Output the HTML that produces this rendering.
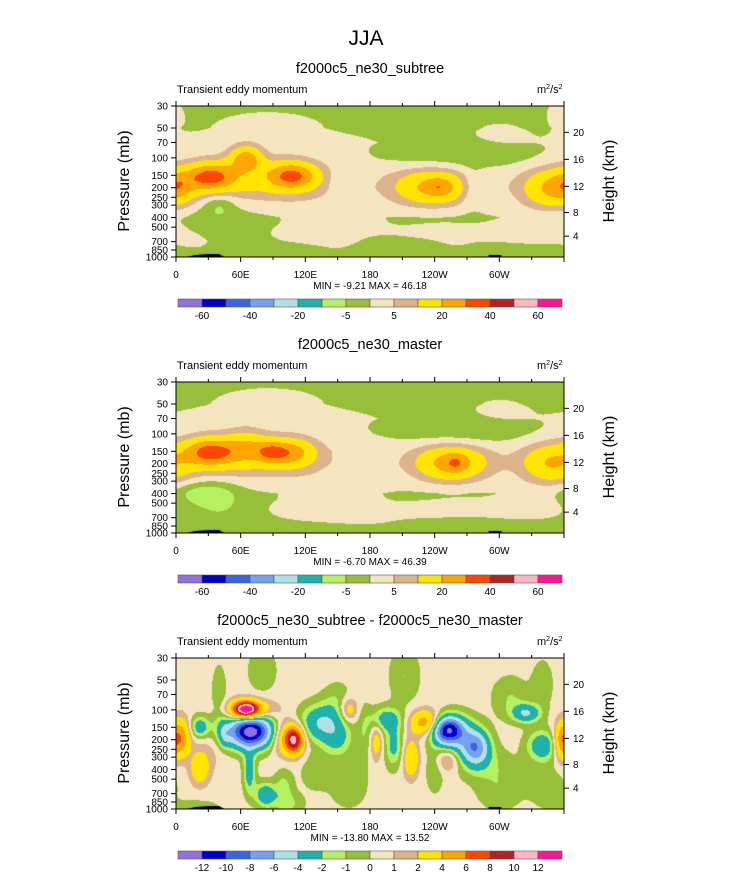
<!DOCTYPE html>
<html><head><meta charset="utf-8"><style>
body{margin:0;background:#fff;}
#wrap{position:relative;width:733px;height:873px;overflow:hidden;font-family:"Liberation Sans",sans-serif;}
canvas{position:absolute;}
svg{position:absolute;left:0;top:0;}
</style></head><body>
<div id="wrap">
<canvas id="c0" width="388" height="151" style="left:176px;top:106px"></canvas>
<canvas id="c1" width="388" height="151" style="left:176px;top:382px"></canvas>
<canvas id="c2" width="388" height="151" style="left:176px;top:658px"></canvas>
<svg id="s" width="733" height="873"></svg>
</div>
<script>
const colors=["#9370db","#0000c8","#3c64dc","#78a0f0","#b0e0e6","#20b2aa","#b4f060","#98bf3a","#f5e4c0","#dcb48c","#ffe400","#ffa500","#ff4500","#b22222","#ffb6c1","#ff1493"];
const levels1=[-60,-50,-40,-30,-20,-10,-5,0,5,10,20,30,40,50,60];
const levels3=[-12,-10,-8,-6,-4,-2,-1,0,1,2,4,6,8,10,12];
const cbLabels1=["-60","","-40","","-20","","-5","","5","","20","","40","","60"];
const cbLabels3=["-12","-10","-8","-6","-4","-2","-1","0","1","2","4","6","8","10","12"];
const titles=["f2000c5_ne30_subtree","f2000c5_ne30_master","f2000c5_ne30_subtree - f2000c5_ne30_master"];
const minmax=["MIN =  -9.21  MAX =  46.18","MIN =  -6.70  MAX =  46.39","MIN = -13.80  MAX =  13.52"];
const presTicks=[30,50,70,100,150,200,250,300,400,500,700,850,1000];
const heightTicks=[20,16,12,8,4];
const heightPres=[55.3,103.5,194,356,616];
const lonTicks=[0,60,120,180,240,300];
const lonLabels=["0","60E","120E","180","120W","60W"];
const basePres=[30,50,70,100,150,200,300,400,500,700,1000];
const base1=[-3,-1.5,1,1.5,3,3,1.5,-1,-1,-1.5,-3];
const base2=[-3,-1.5,1,1.5,3,3,1.5,-1,-1,-1.5,-3];
const base3=[0.5,0.5,0.5,0.5,0.5,0.5,0.5,0.5,0.5,0.5,0.5];
// blobs: [lon, pressure, lonWidth, lnpWidth, amplitude]
const blobs1=[[85,42,50,0.35,3],[300,55,20,0.2,3],[355,32,10,0.3,4],[265,92,55,0.28,-5],[145,400,30,0.3,3],[270,570,55,0.16,2.4],[120,600,25,0.15,2.5],[330,520,25,0.35,2],[40,330,25,0.4,-2],[65,165,45,0.35,9],[32,155,16,0.22,26],[65,102,10,0.2,22],[108,152,16,0.22,26],[2,195,10,0.25,10],[238,198,24,0.28,20],[245,198,8,0.15,8],[348,205,18,0.3,17],[275,200,8,0.3,-6],[40,300,10,0.2,-6],[150,170,8,0.2,-3],[20,800,20,0.3,2],[150,850,20,0.2,1.8],[260,850,15,0.2,1.6]];
const blobs2=[[85,42,50,0.35,3],[300,55,20,0.2,3],[265,92,55,0.28,-5],[145,400,30,0.3,3],[270,570,55,0.16,2.4],[120,600,25,0.15,2.5],[330,520,25,0.35,2],[60,165,45,0.35,9],[32,152,16,0.22,26],[65,135,12,0.25,12],[88,152,10,0.18,18],[108,155,14,0.22,18],[255,197,22,0.28,22],[260,195,7,0.15,8],[348,200,18,0.3,16],[40,450,15,0.3,-6],[20,400,15,0.2,-6],[180,850,50,0.2,2]];
const blobs3=[[80,40,9,0.35,-1.5],[212,45,10,0.45,-1.5],[310,75,12,0.35,-1.5],[340,55,7,0.4,-1.3],[40,70,5,0.5,-1.3],[150,80,10,0.3,-1.3],[65,100,8,0.13,12.5],[68,100,16,0.18,4],[70,165,13,0.25,-11],[62,165,22,0.32,-3],[110,200,6,0.22,9.5],[100,190,8,0.28,3.5],[135,135,14,0.3,-4.5],[150,200,10,0.3,-2.5],[195,125,10,0.2,-3.5],[202,230,6,0.35,-3],[186,210,4,0.3,2.5],[232,135,10,0.2,5],[252,160,10,0.22,-11],[262,185,14,0.35,-3],[278,240,9,0.28,-7],[325,108,9,0.15,-4.5],[340,230,10,0.25,-4],[357,210,5,0.3,4],[5,190,6,0.3,4.5],[22,150,6,0.18,-3.5],[22,400,6,0.25,3],[45,180,4,0.2,-2.5],[68,420,4,0.35,-3.5],[83,720,7,0.2,-4],[100,600,6,0.3,-1.8],[160,100,6,0.2,3],[218,310,5,0.3,3.5],[252,320,8,0.2,2.5],[105,900,10,0.2,-1.5],[300,650,15,0.35,-1.3],[345,600,12,0.35,-1.3],[160,600,12,0.35,-1.3],[30,230,12,0.35,1.2],[130,420,10,0.3,-1.3],[175,180,5,0.5,-1.3],[240,400,6,0.4,-1.3],[285,350,20,0.3,-1.3],[20,1000,15,0.15,-1.3]];
const panels=[{base:base1,blobs:blobs1,levels:levels1,cb:cbLabels1},{base:base2,blobs:blobs2,levels:levels1,cb:cbLabels1},{base:base3,blobs:blobs3,levels:levels3,cb:cbLabels3}];

const X0=176,W=388,H=151,tops=[106,382,658];
const L0=Math.log(30),L1=Math.log(1000);
const xOf=lon=>lon/360*W;
const yOf=p=>(Math.log(p)-L0)/(L1-L0)*H;
function baseAt(b,p){const lp=Math.log(p);for(let i=0;i<basePres.length-1;i++){const a=Math.log(basePres[i]),c=Math.log(basePres[i+1]);if(lp<=c){const t=(lp-a)/(c-a);return b[i]+(b[i+1]-b[i])*t;}}return b[b.length-1];}
function field(pn,lon,p){let v=baseAt(pn.base,p);const lp=Math.log(p);for(const bl of pn.blobs){let dl=Math.abs(lon-bl[0]);if(dl>180)dl=360-dl;const dx=dl/bl[2],dy=(lp-Math.log(bl[1]))/bl[3];v+=bl[4]*Math.exp(-0.5*(dx*dx+dy*dy));}return v;}
function colIdx(lv,v){let i=0;while(i<lv.length&&v>=lv[i])i++;return i;}
panels.forEach((pn,k)=>{const cv=document.getElementById('c'+k),ctx=cv.getContext('2d');
 for(let j=0;j<H;j++){const p=Math.exp(L0+(j+0.5)/H*(L1-L0));for(let i=0;i<W;i++){const lon=(i+0.5)/W*360;ctx.fillStyle=colors[colIdx(pn.levels,field(pn,lon,p))];ctx.fillRect(i,j,1,1);}}
 ctx.fillStyle="#000";ctx.beginPath();ctx.moveTo(xOf(10),H);ctx.lineTo(xOf(18),H-2);ctx.lineTo(xOf(30),H-3);ctx.lineTo(xOf(40),H-3);ctx.lineTo(xOf(45),H);ctx.closePath();ctx.fill();
 ctx.fillRect(xOf(290),H-2,xOf(12),2);});

const s=document.getElementById('s');const NS="http://www.w3.org/2000/svg";
function mk(tag,at,txt,name){const e=document.createElementNS(NS,tag);for(const a in at)e.setAttribute(a,at[a]);if(txt!==undefined)e.textContent=txt;


s.appendChild(e);return e;}
mk('text',{x:366,y:45,'font-size':21,'text-anchor':'middle'},"JJA","main-title");
panels.forEach((pn,k)=>{const T=tops[k];
 mk('text',{x:370,y:T-33,'font-size':14.5,'text-anchor':'middle'},titles[k],"panel-title");
 mk('text',{x:177,y:T-13,'font-size':11},"Transient eddy momentum","field-label");
 const u=mk('text',{x:537,y:T-13,'font-size':11},"m","units-label");
 u.innerHTML='m<tspan dy="-4" font-size="7">2</tspan><tspan dy="4">/s</tspan><tspan dy="-4" font-size="7">2</tspan>';
 mk('rect',{x:X0,y:T,width:W,height:H,fill:'none',stroke:'#000','stroke-width':1},undefined,"plot-frame");
 presTicks.forEach(p=>{const y=T+yOf(p);mk('line',{x1:X0-5,y1:y,x2:X0,y2:y,stroke:'#000'},undefined,"y-tick");mk('text',{x:X0-8,y:y+3.5,'font-size':10,'text-anchor':'end'},String(p),"y-tick-label");});
 heightTicks.forEach((h,i)=>{const y=T+yOf(heightPres[i]);mk('line',{x1:X0+W,y1:y,x2:X0+W+5,y2:y,stroke:'#000'},undefined,"right-tick");mk('text',{x:X0+W+9,y:y+3.5,'font-size':10},String(h),"right-tick-label");});
 for(let lon=0;lon<=360;lon+=30){const x=X0+xOf(lon),len=lon%60==0?5:3;mk('line',{x1:x,y1:T+H,x2:x,y2:T+H+len,stroke:'#000'},undefined,"x-tick");mk('line',{x1:x,y1:T,x2:x,y2:T-len,stroke:'#000'},undefined,"top-tick");}
 lonTicks.forEach((l,i)=>mk('text',{x:X0+xOf(l),y:T+H+21,'font-size':10,'text-anchor':'middle'},lonLabels[i],"x-tick-label"));
 mk('text',{x:370,y:T+H+32,'font-size':10,'text-anchor':'middle','xml:space':'preserve'},minmax[k],"min-max-label");
 mk('text',{x:0,y:0,'font-size':16,'text-anchor':'middle',transform:`translate(129,${T+75}) rotate(-90)`},"Pressure (mb)","y-axis-title");
 mk('text',{x:0,y:0,'font-size':16,'text-anchor':'middle',transform:`translate(614,${T+75}) rotate(-90)`},"Height (km)","right-axis-title");
 const cy=T+193;
 colors.forEach((c,i)=>mk('rect',{x:178+24*i,y:cy,width:24,height:8,fill:c,stroke:'#555','stroke-width':0.6},undefined,"colorbar-box"));
 pn.cb.forEach((t,i)=>{if(t)mk('text',{x:202+24*i,y:cy+20,'font-size':10,'text-anchor':'middle'},t,"colorbar-label");});
});
</script>
</body></html>
